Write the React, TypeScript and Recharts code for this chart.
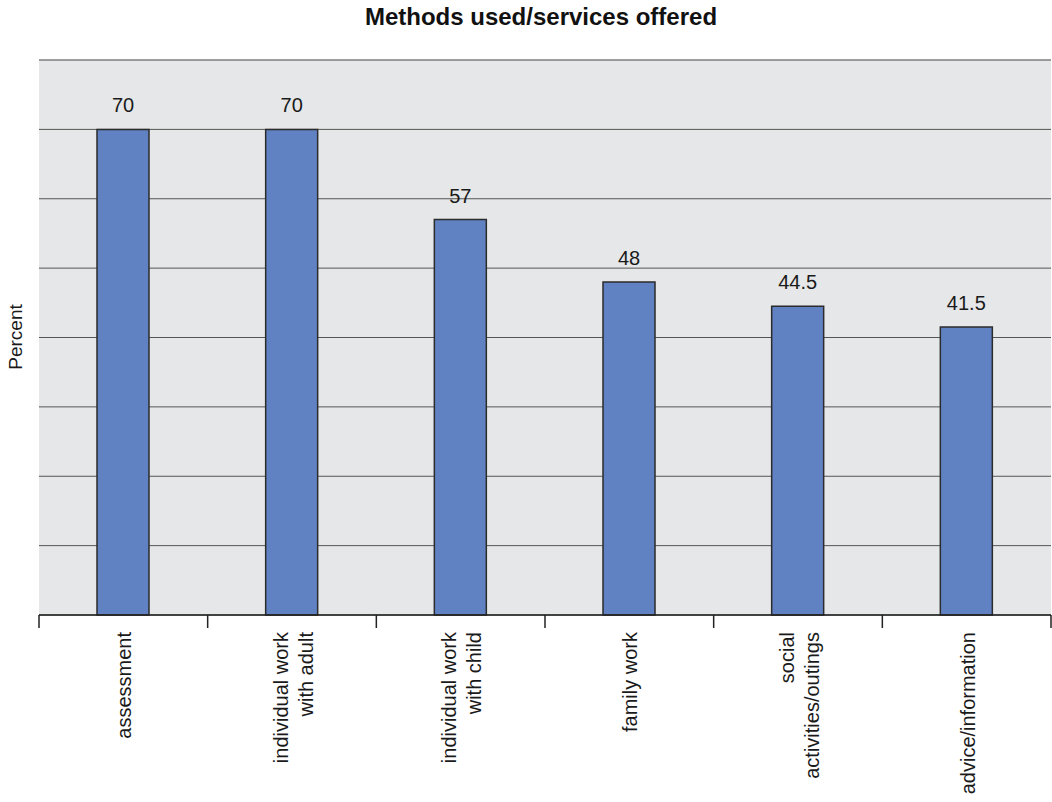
import React from "react";
import {
  BarChart,
  Bar,
  XAxis,
  YAxis,
  CartesianGrid,
  LabelList,
  ReferenceLine,
} from "recharts";

// Methods used / services offered, in percent
const categories = [
  "assessment",
  "individual work\nwith adult",
  "individual work\nwith child",
  "family work",
  "social\nactivities/outings",
  "advice/information",
];
const percentValues = [70, 70, 57, 48, 44.5, 41.5];
const yTicks = [0, 10, 20, 30, 40, 50, 60, 70, 80];

const data = categories.map((name, i) => ({ name, value: percentValues[i] }));

const W = 1052;
const H = 802;
const FONT = "'Liberation Sans', Arial, sans-serif";
const LEFT = 39;
const RIGHT = 1;
const FALLBACK_HALF_BAND = (W - LEFT - RIGHT) / categories.length / 2;

// Category tick: boundary tick marks plus a rotated, end-aligned multi-line label
const CategoryTick = (props: any) => {
  const { x, y, payload, index } = props;
  const half =
    payload && typeof payload.offset === "number" && payload.offset > 0
      ? payload.offset
      : FALLBACK_HALF_BAND;
  const lines = String(payload.value).split("\n");
  const lineGap = 25;
  const firstBaseline = 8 - ((lines.length - 1) * lineGap) / 2;
  return (
    <g>
      <line x1={x - half} y1={y} x2={x - half} y2={y + 13} stroke="#222" strokeWidth={1.5} />
      {index === categories.length - 1 && (
        <line x1={x + half} y1={y} x2={x + half} y2={y + 13} stroke="#222" strokeWidth={1.5} />
      )}
      <text
        transform={`translate(${x},${y + 17}) rotate(-90)`}
        textAnchor="end"
        fontFamily={FONT}
        fontSize={20}
        fill="#1a1a1a"
      >
        {lines.map((l, i) => (
          <tspan key={i} x={0} y={firstBaseline + i * lineGap}>
            {l}
          </tspan>
        ))}
      </text>
    </g>
  );
};

export default function App() {
  return (
    <div style={{ position: "absolute", left: 0, top: 0, width: W, height: H, background: "#fff" }}>
      <BarChart
        width={W}
        height={H}
        data={data}
        margin={{ top: 60, right: RIGHT, left: LEFT, bottom: 0 }}
      >
        <CartesianGrid
          vertical={false}
          fill="#e6e7e8"
          stroke="#555"
          strokeWidth={1}
        />
        <XAxis
          dataKey="name"
          height={187}
          interval={0}
          tickLine={false}
          tickSize={0}
          tickMargin={0}
          axisLine={{ stroke: "#222", strokeWidth: 1.5 }}
          tick={<CategoryTick />}
        />
        <YAxis hide domain={[0, 80]} ticks={yTicks} width={0} />
        <ReferenceLine y={80} stroke="#999" strokeWidth={1.5} />
        <Bar
          dataKey="value"
          fill="#6082c2"
          stroke="#2b2b2b"
          strokeWidth={1.5}
          barSize={52}
          isAnimationActive={false}
        >
          <LabelList
            dataKey="value"
            position="top"
            offset={17}
            fontFamily={FONT}
            fontSize={20}
            fill="#1a1a1a"
          />
        </Bar>
      </BarChart>
      <svg
        width={W}
        height={H}
        style={{ position: "absolute", left: 0, top: 0, pointerEvents: "none" }}
      >
        <text
          x={541}
          y={25}
          textAnchor="middle"
          fontFamily={FONT}
          fontWeight="bold"
          fontSize={24}
          fill="#111"
        >
          Methods used/services offered
        </text>
        <text
          transform="translate(22,337) rotate(-90)"
          textAnchor="middle"
          fontFamily={FONT}
          fontSize={19}
          fill="#1a1a1a"
        >
          Percent
        </text>
      </svg>
    </div>
  );
}
